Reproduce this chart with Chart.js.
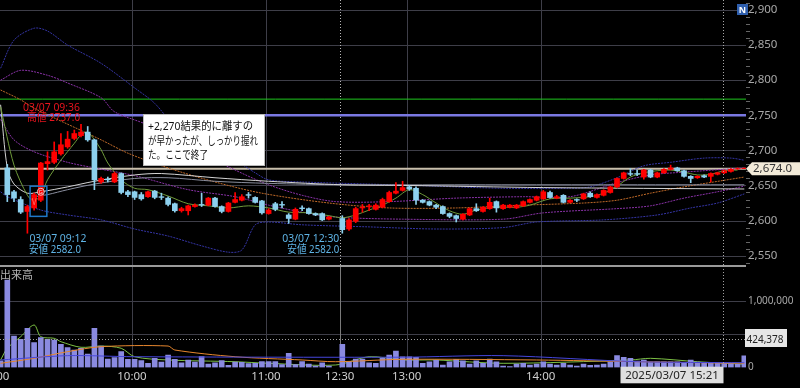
<!DOCTYPE html>
<html><head><meta charset="utf-8">
<script src="https://cdn.jsdelivr.net/npm/chart.js@4"></script>
<style>
html,body{margin:0;padding:0;background:#000;overflow:hidden}
canvas{display:block}
</style></head><body>
<canvas id="price" width="800" height="266"></canvas>
<canvas id="vol" width="800" height="122"></canvas>
<script>
// 3-minute candles, index 0 = 9:00 ... 50 = 11:30, 51 = 12:30 ... 111 = 15:30
var opens = [null,
  2675,2641,2630,2613,2618,2629,2681,2683,2695,2705,
  2717,2721,2726,2715,2655,2659,2655,2667,2641,2641,
  2637,2634,2642,2634,2632,2624,2614,2614,2620,2623,
  2622,2632,2620,2613,2626,2629,2637,2633,2628,2610,
  2624,2623,2608,2602,2618,2617,2610,2610,2602,null,
  2603,2588,2599,2618,2620,2616,2619,2627,2639,2643,
  2648,2646,2629,2627,2622,2620,2610,2607,2602,2608,
  2617,2613,2617,2627,2617,2619,2618,2621,2626,2629,
  2631,2640,2632,2636,2626,2630,2631,2639,2633,2636,
  2640,2648,2660,2667,2667,2662,2672,2662,2668,2673,
  2675,2671,2663,2661,2664,2663,2666,2668,2670,2673.5,2674];
var closes = [null,
  2637,2632,2612,2620,2637,2682,2684,2698,2708,2716,
  2724,2726,2715,2658,2660,2658,2667,2640,2637,2633,
  2631,2641,2633,2633,2623,2614,2617,2621,2622,2622,
  2632,2620,2613,2625,2630,2634,2636,2626,2611,2615,
  2616,2622,2603,2616,2617,2610,2608,2601,2605,null,
  2587,2601,2617,2619,2621,2622,2630,2640,2642,2647,
  2645,2629,2626,2622,2619,2610,2606,2603,2609,2617,
  2614,2619,2626,2618,2622,2622,2622,2627,2630,2634,
  2641,2633,2634,2626,2629,2629,2638,2634,2637,2643,
  2648,2660,2668,2666,2666,2672,2662,2668,2673,2675,
  2671,2663,2660,2663,2662,2667,2668,2671,2673,2674,2674.5];
var highs = [null,
  2680,2643,2634,2622,2639,2683,2698,2712,2724,2727,
  2729,2737,2734,2716,2662,2662,2669,2668,2643,2642,
  2640,2642,2643,2639,2634,2625,2619,2622,2624,2639,
  2633,2633,2621,2626,2640,2637,2640,2634,2629,2617,
  2626,2627,2610,2618,2621,2618,2611,2611,2606,null,
  2607,2603,2619,2623,2623,2624,2632,2642,2654,2656,
  2650,2648,2630,2628,2623,2621,2611,2608,2610,2618,
  2624,2620,2632,2628,2623,2623,2623,2628,2631,2635,
  2643,2642,2636,2637,2630,2631,2639,2641,2638,2644,
  2649,2661,2669,2674,2672,2673,2673,2669,2674,2679,
  2676,2672,2664,2664,2665,2668,2669,2672,2674,2675,2675];
var lows = [null,
  2627,2627,2610,2582,2615,2627,2672,2681,2693,2703,
  2715,2719,2713,2644,2653,2655,2654,2638,2634,2630,
  2629,2633,2631,2630,2621,2612,2612,2608,2619,2620,
  2621,2619,2611,2612,2625,2628,2632,2625,2609,2609,
  2614,2618,2596,2601,2614,2609,2607,2600,2601,null,
  2582,2586,2597,2612,2614,2615,2618,2626,2638,2642,
  2643,2623,2625,2621,2617,2609,2604,2598,2601,2607,
  2613,2612,2616,2612,2616,2618,2617,2620,2625,2628,
  2630,2632,2631,2625,2625,2627,2630,2633,2632,2635,
  2639,2647,2659,2664,2664,2659,2661,2661,2667,2672,
  2670,2662,2654,2660,2661,2655,2665,2667,2669,2673,2674];
var volumes = [100000,
  1316000,474000,424000,589000,373000,448000,424000,414000,349000,298000,
  263000,288000,203000,589000,323000,128000,148000,238000,123000,123000,
  103000,63000,138000,83000,188000,123000,72000,113000,83000,163000,
  53000,72000,103000,33000,83000,78000,58000,63000,88000,88000,
  88000,43000,213000,43000,88000,53000,23000,72000,23000,null,
  349000,88000,128000,128000,72000,63000,138000,188000,248000,162000,
  162000,153000,63000,87000,113000,38000,87000,123000,102000,53000,
  102000,63000,128000,87000,23000,12000,53000,63000,38000,53000,
  87000,53000,38000,63000,38000,23000,53000,33000,38000,53000,
  87000,178000,153000,138000,98000,113000,83000,87000,87000,87000,
  87000,63000,113000,83000,63000,72000,63000,63000,63000,53000,177000];

// overlay lines (candle index, price)
var ma5Idx = [0,2,4,5,6,7,9,11,12,13,14,15,16,18,20,22,25,28,31,34,37,40,43,46,49,51,53,55,57,59,61,63,65,67,69,71,74,77,79,82,85,88,90,92,94,96,98,100,102,104,106,108,110];
var ma5 = [2762,2679,2636,2628,2636,2658,2686,2710,2722,2726,2715,2701,2682,2658,2646,2644,2635,2624,2621,2618,2621,2618,2612,2611,2607,2604,2608,2615,2622,2632,2644,2637,2625,2614,2609,2615,2619,2619,2622,2631,2632,2634,2639,2649,2662,2668,2671,2672,2669,2665,2666,2671,2672];
var ma25Idx = [0,3,5,15,19,25,32,39,49,58,68,78,87,92,97,102,111];
var ma25 = [2786,2772,2760,2715,2696,2675,2655,2639,2625,2618,2618,2622,2625,2629,2639,2648,2662];
var bbUp2Idx = [0,2,5,7,10,15,20,23,26,28,31,35,38,40,45,55,65,75,85,88,92,96,100,105,109,111];
var bbUp2 = [2817,2857,2874,2870,2850,2824,2789,2767,2733,2715,2703,2686,2668,2658,2655,2652,2649,2646,2646,2648,2661,2678,2683,2689,2689,2686];
var bbUp1Idx = [0,3,7,10,15,17,22,28,35,40,45,50,58,68,78,85,92,97,102,111];
var bbUp1 = [2800,2814,2807,2796,2775,2755,2736,2705,2672,2651,2636,2627,2627,2632,2634,2634,2654,2665,2669,2675];
var bbLo1Idx = [0,2,5,10,14,20,28,35,40,45,50,60,75,81,92,97,102,107,111];
var bbLo1 = [2744,2715,2698,2683,2675,2664,2644,2634,2622,2612,2605,2602,2602,2611,2617,2621,2632,2641,2649];
var bbLo2Idx = [0,1,6,10,15,20,25,30,34,36,38,40,45,55,65,75,80,90,98,103,107,111];
var bbLo2 = [2641,2634,2615,2608,2601,2588,2578,2564,2555,2558,2594,2598,2594,2591,2588,2590,2598,2601,2608,2618,2625,2638];
var vwapIdx = [0,1,2,4,6,10,14,20,24,32,40,51,61,81,111];
var vwap = [2765,2675,2652,2639,2641,2648,2656,2665,2667,2661,2656,2651,2650,2647,2645];
var ma75Idx = [5,7,10,14,20,25,32,40,51,70,90,111];
var ma75 = [2634,2637,2644,2652,2660,2661,2656,2653,2651,2651,2651,2651];
var levels = [2773, 2750, 2674];

// volume averages
var vMa5Idx = [0,1,3,5,6,8,9,12,15,18,20,25,35,40,50,55,60,65,75,94,97,104,111];
var vMa5 = [113000,289000,463000,639000,463000,439000,388000,304000,323000,289000,162000,113000,87000,63000,38000,162000,113000,113000,63000,113000,138000,87000,48000];
var vMa25Idx = [0,5,10,15,25,26,35,45,50,60,80,95,111];
var vMa25 = [63000,138000,238000,313000,323000,263000,162000,113000,87000,123000,113000,87000,63000];
var vMaLIdx = [0,10,20,60,75,95,111];
var vMaL = [113000,178000,162000,155000,178000,87000,72000];

var priceTicks = [2550,2600,2650,2700,2750,2800,2850,2900];
var volTicks = [0,500000,1000000];
var timeIdx = [0,20,40,51,61,81];
var timeLabels = ['9:00','10:00','11:00','12:30','13:00','14:00'];
var lastPrice = 2674;
var cursorVol = 424378;
var cursorIdx = 107.8;

var FONT = '"Noto Sans","Noto Sans CJK JP",sans-serif';
var UP = '#ff0000', DOWN = '#8dd0ee';
var X_MIN = -0.09, X_MAX = 111.25;

function pts(idx, vals) { return idx.map(function (x, k) { return {x: x, y: vals[k]}; }); }

var wicks = [], bodies = [], cc = [];
closes.forEach(function (c, i) {
  if (c == null) return;
  wicks.push({x: i, y: [lows[i], highs[i]]});
  bodies.push({x: i, y: [opens[i], c]});
  cc.push(c >= opens[i] ? UP : DOWN);
});

function line(data, color, width, dash, order) {
  return {type: 'line', data: data, borderColor: color, borderWidth: width || 1,
    borderDash: dash || [], pointRadius: 0, tension: 0.3, order: order || 5};
}
function seg(ctx, x1, y1, x2, y2) { ctx.beginPath(); ctx.moveTo(x1, y1); ctx.lineTo(x2, y2); ctx.stroke(); }
function txt(ctx, s, x, y, color, size, align, maxW) {
  ctx.fillStyle = color; ctx.font = size + 'px ' + FONT;
  ctx.textAlign = align || 'left'; ctx.textBaseline = 'middle';
  if (maxW) ctx.fillText(s, x, y, maxW); else ctx.fillText(s, x, y);
}
function vGrid(ctx, xs, top, bottom, solid1230) {
  timeIdx.forEach(function (t, k) {
    var px = Math.round(xs.getPixelForValue(t - 0.4)) + 0.5;
    if (timeLabels[k] === '12:30') {
      ctx.strokeStyle = solid1230 ? '#7a7a7a' : '#b8b8b8';
      ctx.setLineDash(solid1230 ? [] : [1, 2]);
    } else { ctx.strokeStyle = '#3e3e48'; ctx.setLineDash([]); }
    seg(ctx, px, top, px, bottom);
  });
  ctx.setLineDash([]);
}
function xAxis(extra) {
  var o = {type: 'linear', min: X_MIN, max: X_MAX, offset: false, grid: {display: false, offset: false, drawTicks: false}};
  for (var k in extra) o[k] = extra[k];
  return o;
}

var priceDeco = {
  id: 'priceDeco',
  beforeDatasetsDraw: function (chart) {
    var ctx = chart.ctx, a = chart.chartArea, xs = chart.scales.x, ys = chart.scales.y;
    ctx.save(); ctx.lineWidth = 1;
    ctx.strokeStyle = '#3e3e48';
    priceTicks.forEach(function (v) {
      var py = Math.round(ys.getPixelForValue(v)) + 0.5; seg(ctx, 0, py, a.right, py);
    });
    vGrid(ctx, xs, 0, a.bottom, false);
    ctx.strokeStyle = '#666';
    for (var v = 2540; v <= 2910; v += 10) {
      if (v % 50 === 0) continue;
      var py = Math.round(ys.getPixelForValue(v)) + 0.5; seg(ctx, a.right, py, a.right + 4, py);
    }
    ctx.restore();
  },
  afterDraw: function (chart) {
    var ctx = chart.ctx, a = chart.chartArea, xs = chart.scales.x, ys = chart.scales.y;
    ctx.save();
    ctx.strokeStyle = '#9a9a9a'; ctx.lineWidth = 1;
    seg(ctx, 0, a.bottom - 0.5, a.right, a.bottom - 0.5);
    // crosshair
    var cx = Math.round(xs.getPixelForValue(cursorIdx)) + 0.5;
    ctx.strokeStyle = '#a8a8a8'; ctx.setLineDash([1, 2]); seg(ctx, cx, 0, cx, a.bottom); ctx.setLineDash([]);
    // entry box and G marker
    var bx1 = xs.getPixelForValue(4.4), bx2 = xs.getPixelForValue(6.9);
    var by1 = ys.getPixelForValue(2649), by2 = ys.getPixelForValue(2606);
    ctx.strokeStyle = '#1f78c8'; ctx.lineWidth = 1.5; ctx.strokeRect(bx1, by1, bx2 - bx1, by2 - by1);
    txt(ctx, 'V', xs.getPixelForValue(5), ys.getPixelForValue(2626), '#ff6a6a', 8, 'center');
    var gx = xs.getPixelForValue(6), gy = ys.getPixelForValue(2641);
    ctx.lineWidth = 1; ctx.strokeStyle = '#f0c0c0';
    ctx.beginPath(); ctx.arc(gx, gy, 3.5, 0, Math.PI * 2); ctx.stroke();
    txt(ctx, 'G', gx, gy + 0.5, '#f4d0d0', 6, 'center');
    // high / low notes
    var hx = xs.getPixelForValue(12);
    txt(ctx, '03/07 09:36', hx - 58, 108, '#e8141e', 11, 'left', 57);
    txt(ctx, '高値 2737.0', hx - 54, 118, '#e8141e', 11, 'left', 53);
    var lx = xs.getPixelForValue(4);
    txt(ctx, '03/07 09:12', lx + 2, 239, '#5fb4e6', 11, 'left', 57);
    txt(ctx, '安値 2582.0', lx + 1.5, 250, '#5fb4e6', 11, 'left', 52);
    var l2 = xs.getPixelForValue(51) - 3;
    txt(ctx, '03/07 12:30', l2, 239, '#5fb4e6', 11, 'right', 57);
    txt(ctx, '安値 2582.0', l2, 250, '#5fb4e6', 11, 'right', 52);
    // memo box
    ctx.fillStyle = '#ffffff'; ctx.fillRect(143, 114, 122, 52);
    ctx.strokeStyle = '#bbbbbb'; ctx.strokeRect(143.5, 114.5, 121, 51);
    txt(ctx, '+2,270結果的に離すの', 148, 127, '#111', 11, 'left', 105);
    txt(ctx, 'が早かったが、しっかり握れ', 148, 141.5, '#111', 11, 'left', 110);
    txt(ctx, 'た。ここで終了', 148, 156, '#111', 11, 'left', 60);
    // N badge
    ctx.fillStyle = '#2f5fae'; ctx.fillRect(737, 4, 11, 11);
    ctx.font = 'bold 9px ' + FONT; ctx.fillStyle = '#fff'; ctx.textAlign = 'center'; ctx.textBaseline = 'middle';
    ctx.fillText('N', 742.5, 10);
    // last price tag
    var py = ys.getPixelForValue(lastPrice);
    ctx.fillStyle = '#f2ead8';
    ctx.beginPath(); ctx.moveTo(a.right, py); ctx.lineTo(a.right + 6, py - 6.5); ctx.lineTo(800, py - 6.5);
    ctx.lineTo(800, py + 6.5); ctx.lineTo(a.right + 6, py + 6.5); ctx.closePath(); ctx.fill();
    txt(ctx, lastPrice.toLocaleString('en-US', {minimumFractionDigits: 1}), a.right + 7, py + 0.5, '#333', 11.5, 'left');
    ctx.restore();
  }
};

new Chart(document.getElementById('price'), {
  type: 'bar',
  data: {
    datasets: [
      {data: bodies, backgroundColor: cc, barThickness: 5, grouped: false, order: 0},
      {data: wicks, backgroundColor: cc, barThickness: 1, grouped: false, order: 1},
      line(pts(ma5Idx, ma5), '#6f9a3a', 1, [], 2),
      line(pts(vwapIdx, vwap), '#d4d4d4', 1, [], 3),
      line(pts(ma75Idx, ma75), '#8a8e9e', 1, [], 3),
      line(pts(ma25Idx, ma25), '#c06a28', 1, [2, 1], 4),
      line(pts(bbUp1Idx, bbUp1), '#8a32a8', 1, [2, 1], 4),
      line(pts(bbLo1Idx, bbLo1), '#8a32a8', 1, [2, 1], 4),
      line(pts(bbUp2Idx, bbUp2), '#3434a4', 1, [2, 1], 4),
      line(pts(bbLo2Idx, bbLo2), '#3434a4', 1, [2, 1], 4),
      line([{x: X_MIN, y: levels[0]}, {x: X_MAX, y: levels[0]}], '#1ec81e', 1, [], 6),
      line([{x: X_MIN, y: levels[1]}, {x: X_MAX, y: levels[1]}], '#7a78e2', 2.5, [], 6),
      line([{x: X_MIN, y: levels[2]}, {x: X_MAX, y: levels[2]}], '#c9bfac', 2, [], 6)
    ]
  },
  options: {
    responsive: false, animation: false, devicePixelRatio: 1, events: [],
    layout: {padding: 0},
    plugins: {legend: {display: false}, tooltip: {enabled: false}},
    scales: {
      x: xAxis({display: false}),
      y: {type: 'linear', position: 'right', min: 2535.3, max: 2914.2,
        afterBuildTicks: function (s) { s.ticks = priceTicks.map(function (v) { return {value: v}; }); },
        afterFit: function (s) { s.width = 54; s.paddingTop = 0; s.paddingBottom = 0; },
        grid: {display: false, drawTicks: false}, border: {display: false},
        ticks: {color: '#a8a8a8', padding: 2, font: {family: FONT, size: 11.5},
          callback: function (v) { return v.toLocaleString('en-US'); }}
      }
    }
  },
  plugins: [priceDeco]
});

var volDeco = {
  id: 'volDeco',
  beforeDatasetsDraw: function (chart) {
    var ctx = chart.ctx, a = chart.chartArea, xs = chart.scales.x, ys = chart.scales.y;
    ctx.save(); ctx.lineWidth = 1;
    ctx.strokeStyle = '#3e3e48';
    [500000, 1000000].forEach(function (v) {
      var py = Math.round(ys.getPixelForValue(v)) + 0.5; seg(ctx, 0, py, a.right, py);
    });
    vGrid(ctx, xs, 0, a.bottom, true);
    ctx.restore();
  },
  afterDraw: function (chart) {
    var ctx = chart.ctx, a = chart.chartArea, xs = chart.scales.x, ys = chart.scales.y;
    ctx.save(); ctx.lineWidth = 1;
    ctx.strokeStyle = '#9a9a9a'; seg(ctx, 0, 0.5, a.right, 0.5);
    txt(ctx, '出来高', 0, 9.5, '#b4b4b4', 11, 'left');
    var cx = Math.round(xs.getPixelForValue(cursorIdx)) + 0.5;
    var cy = Math.round(ys.getPixelForValue(cursorVol)) + 0.5;
    ctx.strokeStyle = '#a0a0a0'; ctx.setLineDash([1, 2]);
    seg(ctx, cx, 0, cx, a.bottom); seg(ctx, 0, cy, a.right, cy);
    ctx.setLineDash([]);
    ctx.fillStyle = '#e6e6e6'; ctx.fillRect(a.right - 1, cy - 10.5, 42, 18);
    txt(ctx, cursorVol.toLocaleString('en-US'), a.right + 0.5, cy + 0.5, '#222', 10, 'left');
    ctx.fillStyle = '#dedede'; ctx.fillRect(cx - 103, a.bottom - 0.8, 103, 16.6);
    txt(ctx, '2025/03/07 15:21', cx - 51.5, a.bottom + 8, '#222', 11.5, 'center');
    ctx.restore();
  }
};

new Chart(document.getElementById('vol'), {
  type: 'bar',
  data: {
    datasets: [
      {data: volumes.map(function (v, i) { return {x: i, y: v}; }), backgroundColor: '#8a8ae0',
        barThickness: 5, grouped: false, order: 2},
      line(pts(vMaLIdx, vMaL), '#4646dc', 1, [], 1),
      line(pts(vMa25Idx, vMa25), '#e6862e', 1, [], 1),
      line(pts(vMa5Idx, vMa5), '#7cc044', 1, [], 0)
    ]
  },
  options: {
    responsive: false, animation: false, devicePixelRatio: 1, events: [],
    layout: {padding: 0},
    plugins: {legend: {display: false}, tooltip: {enabled: false}},
    scales: {
      x: xAxis({position: 'bottom',
        afterBuildTicks: function (s) { s.ticks = timeIdx.map(function (v) { return {value: v - 0.4}; }); },
        afterFit: function (s) { s.height = 20.5; s.paddingLeft = 0; s.paddingRight = 0; },
        border: {display: false},
        ticks: {autoSkip: false, maxRotation: 0, minRotation: 0, color: '#cfcfcf', padding: 2,
          font: {family: FONT, size: 11.5},
          callback: function (v, i) { return timeLabels[i]; }}
      }),
      y: {type: 'linear', position: 'right', min: 0, max: 1526000,
        afterBuildTicks: function (s) { s.ticks = volTicks.map(function (v) { return {value: v}; }); },
        afterFit: function (s) { s.width = 54; s.paddingTop = 0; s.paddingBottom = 0; },
        grid: {display: false, drawTicks: false}, border: {display: false},
        ticks: {color: '#a8a8a8', padding: 2, font: {family: FONT, size: 10},
          callback: function (v) { return v.toLocaleString('en-US'); }}
      }
    }
  },
  plugins: [volDeco]
});
</script>
</body></html>
